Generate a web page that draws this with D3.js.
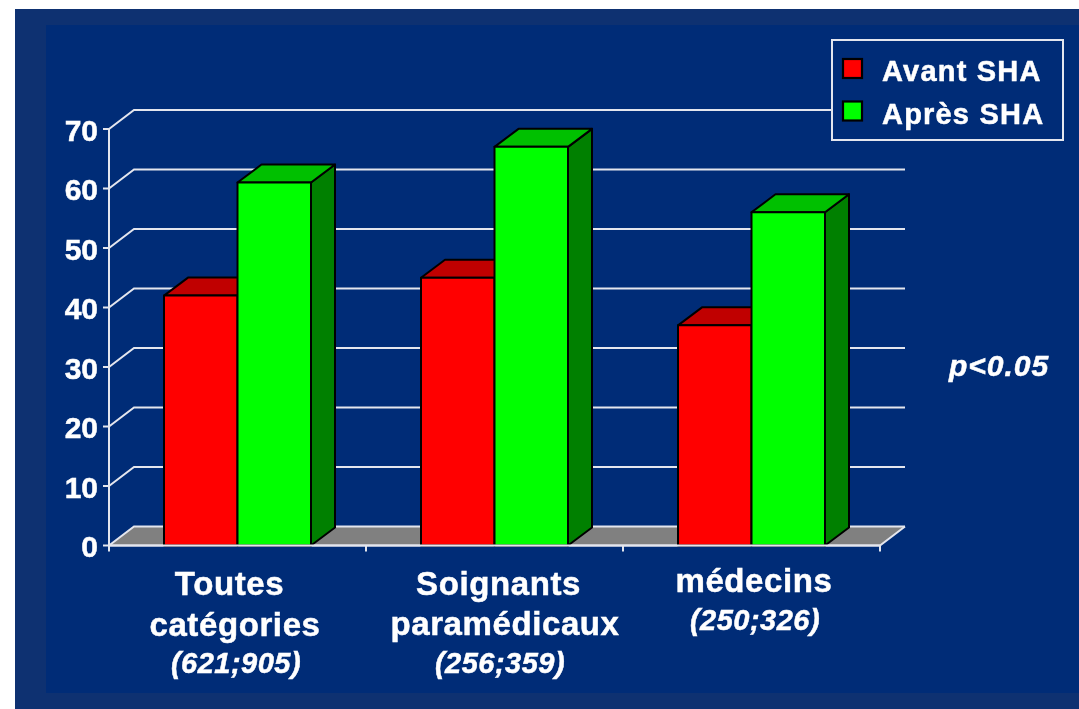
<!DOCTYPE html>
<html>
<head>
<meta charset="utf-8">
<script src="https://cdn.jsdelivr.net/npm/d3@7"></script>
<style>
    html, body { margin: 0; padding: 0; background: #fff; }
    svg { display: block; filter: blur(0.45px); }
    text { font-family: "Liberation Sans", Arial, sans-serif; font-weight: bold; fill: #fff; stroke: #fff; stroke-width: 0.5px; }
</style>
</head>
<body>
<div id="chart"></div>
<script>
var categories = ["Toutes catégories", "Soignants paramédicaux", "médecins"];
var categoryLines = [["Toutes", "catégories"], ["Soignants", "paramédicaux"], ["médecins"]];
var categoryCounts = ["(621;905)", "(256;359)", "(250;326)"];
var seriesNames = ["Avant SHA", "Après SHA"];
var avantValues = [42, 45, 37];
var apresValues = [61, 67, 56];
var yTicks = [0, 10, 20, 30, 40, 50, 60, 70];
var note = "p<0.05";

var width = 1079, height = 709;
var depthX = 25, depthY = 19;
var barDepthX = 24, barDepthY = 18;

var svg = d3.select("#chart").append("svg")
    .attr("width", width)
    .attr("height", height);

// slide background, lighter frame then the inner panel
svg.append("rect").attr("x", 15).attr("y", 9).attr("width", width - 15).attr("height", height - 9).attr("fill", "#0e3171");
svg.append("rect").attr("x", 46).attr("y", 25).attr("width", width - 46).attr("height", 668).attr("fill", "#002c77");

var x = d3.scaleBand()
    .domain(categories)
    .range([109, 880])
    .paddingInner(110 / 257)
    .paddingOuter(55 / 257);

var xInner = d3.scaleBand()
    .domain(seriesNames)
    .range([0, x.bandwidth()]);

var y = d3.scaleLinear()
    .domain([0, 70])
    .range([545.5, 129]);

var grid = "#e4e6ee";

// floor
var y0 = y(0);
svg.append("polygon")
    .attr("points", [[109, y0], [109 + depthX, y0 - depthY], [880 + depthX, y0 - depthY], [880, y0]].join(" "))
    .attr("fill", "#808080");

// grid lines run along the left wall and then the back wall
svg.selectAll(".grid")
    .data(yTicks)
    .enter().append("path")
    .attr("class", "grid")
    .attr("fill", "none")
    .attr("stroke", grid)
    .attr("stroke-width", 2)
    .attr("d", function(d) {
        var p = d3.path();
        p.moveTo(109, y(d));
        p.lineTo(109 + depthX, y(d) - depthY);
        p.lineTo(880 + depthX, y(d) - depthY);
        return p.toString();
    });

// right edge of the floor + front line
svg.append("path")
    .attr("fill", "none")
    .attr("stroke", grid)
    .attr("stroke-width", 2)
    .attr("d", "M109," + y0 + "H880L" + (880 + depthX) + "," + (y0 - depthY));

svg.append("line")
    .attr("x1", 109).attr("x2", 109)
    .attr("y1", y(70)).attr("y2", y0 + 6)
    .attr("stroke", grid).attr("stroke-width", 2);

// y ticks and labels
svg.selectAll(".ytick")
    .data(yTicks)
    .enter().append("line")
    .attr("class", "ytick")
    .attr("x1", 103).attr("x2", 109)
    .attr("y1", function(d) { return y(d); })
    .attr("y2", function(d) { return y(d); })
    .attr("stroke", grid).attr("stroke-width", 2);

svg.selectAll(".ylabel")
    .data(yTicks)
    .enter().append("text")
    .attr("class", "ylabel")
    .attr("x", 98)
    .attr("y", function(d) { return y(d) + 11.5; })
    .attr("text-anchor", "end")
    .attr("font-size", 30)
    .text(function(d) { return d; });

// x ticks on the band boundaries
svg.selectAll(".xtick")
    .data(categories)
    .enter().append("line")
    .attr("class", "xtick")
    .attr("x1", function(d) { return x(d) + x.bandwidth() + 55; })
    .attr("x2", function(d) { return x(d) + x.bandwidth() + 55; })
    .attr("y1", y0)
    .attr("y2", y0 + 6)
    .attr("stroke", grid).attr("stroke-width", 2);

var colors = {
    "Avant SHA": { front: "#ff0000", top: "#c00000", side: "#800000" },
    "Après SHA": { front: "#00ff00", top: "#00c000", side: "#008000" }
};

var barData = [];
categories.forEach(function(c, i) {
    barData.push({ cat: c, name: seriesNames[0], value: avantValues[i] });
    barData.push({ cat: c, name: seriesNames[1], value: apresValues[i] });
});

var bars = svg.selectAll(".bar")
    .data(barData)
    .enter().append("g")
    .attr("class", "bar")
    .attr("stroke", "#000")
    .attr("stroke-width", 2)
    .attr("stroke-linejoin", "round");

bars.append("polygon")
    .attr("fill", function(d) { return colors[d.name].side; })
    .attr("points", function(d) {
        var r = x(d.cat) + xInner(d.name) + xInner.bandwidth();
        return [[r, y0], [r + barDepthX, y0 - barDepthY], [r + barDepthX, y(d.value) - barDepthY], [r, y(d.value)]].join(" ");
    });

bars.append("polygon")
    .attr("fill", function(d) { return colors[d.name].top; })
    .attr("points", function(d) {
        var l = x(d.cat) + xInner(d.name);
        var r = l + xInner.bandwidth();
        var t = y(d.value);
        return [[l, t], [l + barDepthX, t - barDepthY], [r + barDepthX, t - barDepthY], [r, t]].join(" ");
    });

bars.append("rect")
    .attr("fill", function(d) { return colors[d.name].front; })
    .attr("x", function(d) { return x(d.cat) + xInner(d.name); })
    .attr("y", function(d) { return y(d.value); })
    .attr("width", xInner.bandwidth())
    .attr("height", function(d) { return y0 - y(d.value); });

// redraw the front line over the bar bottoms
svg.append("line")
    .attr("x1", 109).attr("x2", 880)
    .attr("y1", y0).attr("y2", y0)
    .attr("stroke", grid).attr("stroke-width", 2);

// category labels, the reference does not centre its lines evenly
var labelDx = [[-8, -2.5], [4, 10.5], [2.5]];
var labelRows = [[595, 636, 673], [595, 635, 673], [592, 630]];
var countDx = [-1.5, 5.5, 3.5];

categories.forEach(function(c, i) {
    var cx = x(c) + x.bandwidth() / 2;
    categoryLines[i].forEach(function(line, j) {
        svg.append("text")
            .attr("x", cx + labelDx[i][j])
            .attr("y", labelRows[i][j])
            .attr("text-anchor", "middle")
            .attr("font-size", 33)
            .attr("letter-spacing", 0.6)
            .text(line);
    });
    svg.append("text")
        .attr("x", cx + countDx[i])
        .attr("y", labelRows[i][categoryLines[i].length])
        .attr("text-anchor", "middle")
        .attr("font-size", 29)
        .attr("font-style", "italic")
        .attr("letter-spacing", 0.5)
        .text(categoryCounts[i]);
});

// p value
svg.append("text")
    .attr("x", 949)
    .attr("y", 376)
    .attr("font-size", 30)
    .attr("font-style", "italic")
    .attr("letter-spacing", 1)
    .text(note);

// legend
var legend = svg.append("g");
legend.append("rect")
    .attr("x", 832).attr("y", 40)
    .attr("width", 231).attr("height", 100)
    .attr("fill", "#002c77")
    .attr("stroke", grid)
    .attr("stroke-width", 2);

seriesNames.forEach(function(name, i) {
    legend.append("rect")
        .attr("x", 843).attr("y", 59 + i * 42.5)
        .attr("width", 19).attr("height", 19)
        .attr("fill", colors[name].front)
        .attr("stroke", "#000")
        .attr("stroke-width", 2.2);
    legend.append("text")
        .attr("x", 882).attr("y", 81 + i * 43)
        .attr("font-size", 29)
        .attr("letter-spacing", 1.2)
        .text(name);
});
</script>
</body>
</html>
